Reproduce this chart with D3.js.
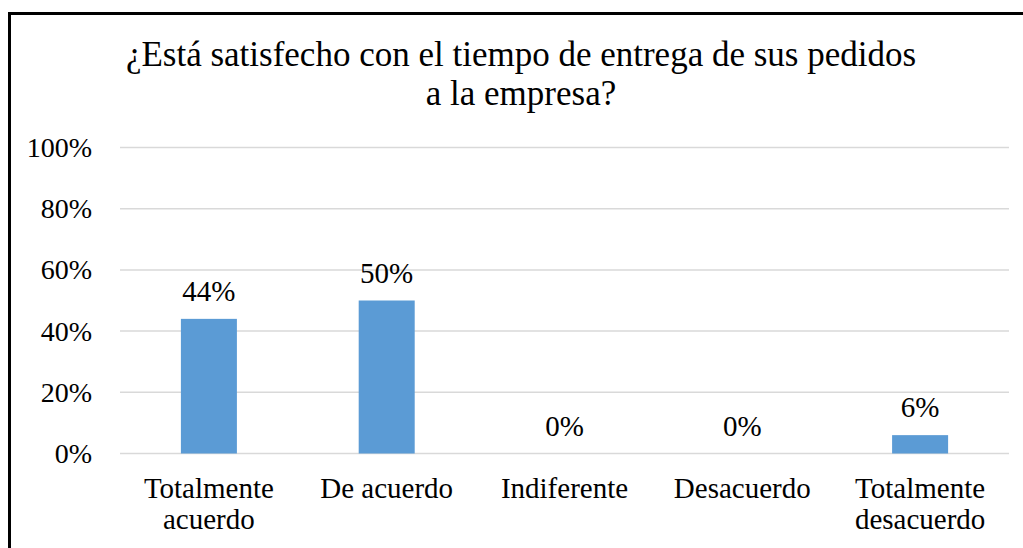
<!DOCTYPE html>
<html>
<head>
<meta charset="utf-8">
<script src="https://cdn.jsdelivr.net/npm/d3@7"></script>
<style>
  html, body { margin: 0; padding: 0; background: #fff; }
  svg { display: block; }
</style>
</head>
<body>
<svg id="chart" width="1023" height="548"></svg>
<script>
// Survey answers and their shares
const categories = [["Totalmente", "acuerdo"], ["De acuerdo"], ["Indiferente"], ["Desacuerdo"], ["Totalmente", "desacuerdo"]];
const values = [0.44, 0.50, 0.00, 0.00, 0.06];
const yTicks = [0, 0.2, 0.4, 0.6, 0.8, 1.0];
const titleLines = ["¿Está satisfecho con el tiempo de entrega de sus pedidos", "a la empresa?"];

const FONT = "Liberation Serif";
const svg = d3.select("#chart");
const margin = { left: 120, right: 14, top: 147.5, bottom: 94.5 };
const W = 1023, H = 548;
const pct = d3.format(".0%");

// Outer frame
svg.append("rect")
  .attr("x", 9.5).attr("y", 13.5)
  .attr("width", 1100).attr("height", 700)
  .attr("fill", "none").attr("stroke", "#000").attr("stroke-width", 3);

// Title
svg.append("text")
  .attr("text-anchor", "middle")
  .style("font-family", FONT).style("font-size", "35px").attr("fill", "#000")
  .selectAll("tspan").data(titleLines).join("tspan")
  .attr("x", 521)
  .attr("y", (d, i) => 66 + i * 38.5)
  .text(d => d);

const x = d3.scaleBand()
  .domain(d3.range(categories.length))
  .range([margin.left, W - margin.right])
  .paddingInner(0.685)
  .paddingOuter(0.3425);

const y = d3.scaleLinear().domain([0, 1]).range([H - margin.bottom, margin.top]);

// Gridlines
svg.append("g")
  .selectAll("line").data(yTicks).join("line")
  .attr("x1", margin.left).attr("x2", W - margin.right)
  .attr("y1", d => y(d)).attr("y2", d => y(d))
  .attr("stroke", "#d9d9d9").attr("stroke-width", 1.5);

// Y axis labels
const yAxis = d3.axisLeft(y).tickValues(yTicks).tickFormat(pct).tickSize(0).tickPadding(28);
const gy = svg.append("g").attr("transform", `translate(${margin.left},0)`).call(yAxis);
gy.select(".domain").remove();
gy.attr("font-family", FONT);
gy.selectAll("text")
  .style("font-family", FONT)
  .style("font-size", "28px").attr("fill", "#000");

// Bars
svg.append("g")
  .selectAll("rect").data(values).join("rect")
  .attr("x", (d, i) => x(i))
  .attr("width", x.bandwidth())
  .attr("y", d => y(d))
  .attr("height", d => y(0) - y(d))
  .attr("fill", "#5b9bd5");

// Value labels
svg.append("g")
  .selectAll("text").data(values).join("text")
  .attr("x", (d, i) => x(i) + x.bandwidth() / 2)
  .attr("y", d => y(d) - 18)
  .attr("text-anchor", "middle")
  .style("font-family", FONT).style("font-size", "29px").attr("fill", "#000")
  .text(d => pct(d));

// Category labels
const cat = svg.append("g")
  .selectAll("text").data(categories).join("text")
  .attr("text-anchor", "middle")
  .style("font-family", FONT).style("font-size", "29px").attr("fill", "#000");
cat.selectAll("tspan").data((d, i) => d.map(s => ({ s, i })))
  .join("tspan")
  .attr("x", d => x(d.i) + x.bandwidth() / 2)
  .attr("y", (d, j) => y(0) + 44 + j * 31.5)
  .text(d => d.s);
</script>
</body>
</html>
